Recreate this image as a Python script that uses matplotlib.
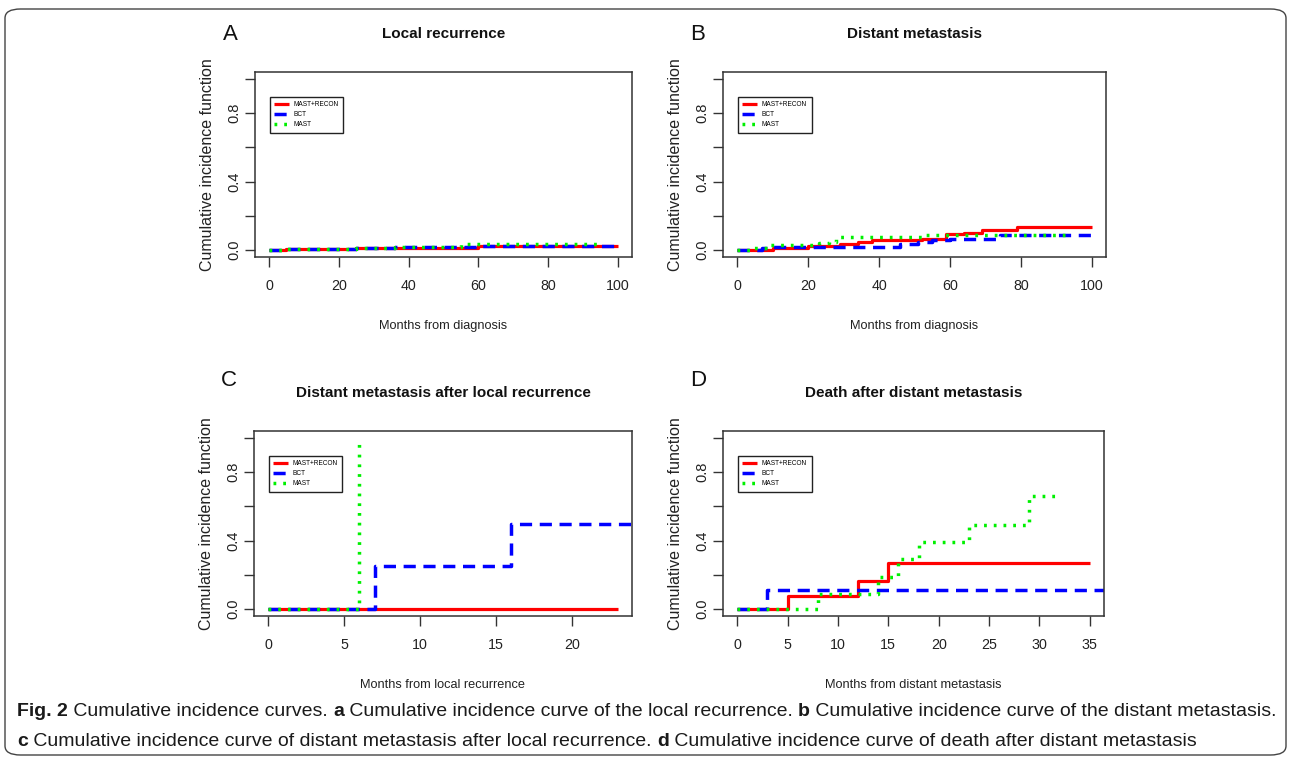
import matplotlib
matplotlib.use('Agg')
import matplotlib.pyplot as plt
from matplotlib.patches import FancyBboxPatch

NARROW = ['Liberation Sans Narrow', 'Liberation Sans', 'DejaVu Sans']
REGULAR = ['Liberation Sans', 'DejaVu Sans']

GROUPS = ['MAST+RECON', 'BCT', 'MAST']

# Panel A - local recurrence (months from diagnosis)
a_red_t = [0, 5, 25, 60, 100]
a_red_y = [0, 0.004, 0.01, 0.023, 0.023]
a_blue_t = [0, 5, 25, 36, 60, 100]
a_blue_y = [0, 0.006, 0.012, 0.021, 0.025, 0.025]
a_green_t = [0, 5, 25, 36, 55, 94]
a_green_y = [0, 0.006, 0.012, 0.018, 0.033, 0.033]

# Panel B - distant metastasis
b_red_t = [0, 10, 20, 29, 34, 38, 52, 59, 64, 69, 79, 100]
b_red_y = [0, 0.014, 0.025, 0.037, 0.049, 0.057, 0.068, 0.092, 0.103, 0.115, 0.138, 0.138]
b_blue_t = [0, 7, 10, 20, 46, 51, 55, 60, 74, 100]
b_blue_y = [0, 0.01, 0.016, 0.02, 0.035, 0.049, 0.058, 0.066, 0.086, 0.086]
b_green_t = [0, 4, 9, 23, 26, 28, 53, 94]
b_green_y = [0, 0.014, 0.03, 0.04, 0.05, 0.078, 0.09, 0.09]

# Panel C - distant metastasis after local recurrence
c_red_t = [0, 23]
c_red_y = [0, 0]
c_blue_t = [0, 7, 16, 24.5]
c_blue_y = [0, 0.25, 0.5, 0.5]
c_green_t = [0, 6, 6]
c_green_y = [0, 1.0, 1.0]

# Panel D - death after distant metastasis
d_red_t = [0, 5, 12, 15, 35]
d_red_y = [0, 0.074, 0.166, 0.27, 0.27]
d_blue_t = [0, 3, 37]
d_blue_y = [0, 0.11, 0.11]
d_green_t = [0, 8, 14, 16, 18, 23, 29, 32]
d_green_y = [0, 0.09, 0.19, 0.29, 0.39, 0.49, 0.66, 0.66]

W, H = 1292, 759


def px_rect(left, top, right, bottom):
    return [left / W, 1 - bottom / H, (right - left) / W, (bottom - top) / H]


def draw_panel(fig, rect, curves, xmax, xticks, title, letter, xlabel, title_y, letter_y):
    ax = fig.add_axes(px_rect(*rect))
    red, blue, green = curves
    ax.step(red[0], red[1], where='post', color='#ff0000', lw=2.3, solid_capstyle='butt', label=GROUPS[0])
    ax.step(blue[0], blue[1], where='post', color='#0000ff', lw=2.5, dashes=(3.5, 2.2),
            dash_capstyle='butt', label=GROUPS[1])
    ax.step(green[0], green[1], where='post', color='#00f000', lw=2.5, dashes=(0.8, 2.0),
            dash_capstyle='butt', label=GROUPS[2])

    pad = 0.04 * xmax
    ax.set_xlim(-pad, xmax + pad)
    ax.set_ylim(-0.04, 1.04)
    ax.set_xticks(xticks)
    ax.set_xticklabels([str(t) for t in xticks], fontfamily=NARROW, fontsize=10.3)
    yt = [0, 0.2, 0.4, 0.6, 0.8, 1.0]
    ax.set_yticks(yt)
    ax.set_yticklabels(['0.0', '', '0.4', '', '0.8', ''], fontfamily=REGULAR, fontsize=10.5,
                       rotation=90, va='center')
    ax.tick_params(direction='out', length=7, width=1, color='#333333', labelcolor='#222222')
    ax.tick_params(axis='x', pad=9)
    ax.tick_params(axis='y', pad=3)
    for s in ax.spines.values():
        s.set_color('#333333')
        s.set_linewidth(1.1)

    ax.set_xlabel(xlabel, fontfamily=NARROW, fontsize=9.2, labelpad=19, color='#222222')
    ax.set_ylabel('Cumulative incidence function', fontfamily=REGULAR, fontsize=11.5,
                  labelpad=9, color='#222222')

    cx = (rect[0] + rect[2]) / 2
    fig.text(cx / W, 1 - title_y / H, title, ha='center', va='center',
             fontfamily=NARROW, fontsize=11, fontweight='bold', color='#111111')
    fig.text((rect[0] - 25) / W, 1 - letter_y / H, letter, ha='center', va='center',
             fontfamily=REGULAR, fontsize=16, color='#111111')

    leg = ax.legend(loc='upper left', bbox_to_anchor=(0.03, 0.885), prop={'family': NARROW, 'size': 4.7},
                    frameon=True, fancybox=False, edgecolor='#222222', framealpha=1,
                    handlelength=2.3, handletextpad=0.7, borderpad=0.7, labelspacing=0.45)
    leg.get_frame().set_linewidth(1.0)
    return ax


fig = plt.figure(figsize=(W / 100, H / 100), dpi=100)

draw_panel(fig, (255, 72, 632, 257),
           [(a_red_t, a_red_y), (a_blue_t, a_blue_y), (a_green_t, a_green_y)],
           100, [0, 20, 40, 60, 80, 100], 'Local recurrence', 'A', 'Months from diagnosis', 34, 34)
draw_panel(fig, (723, 72, 1106, 257),
           [(b_red_t, b_red_y), (b_blue_t, b_blue_y), (b_green_t, b_green_y)],
           100, [0, 20, 40, 60, 80, 100], 'Distant metastasis', 'B', 'Months from diagnosis', 34, 34)
draw_panel(fig, (254, 431, 632, 616),
           [(c_red_t, c_red_y), (c_blue_t, c_blue_y), (c_green_t, c_green_y)],
           23, [0, 5, 10, 15, 20], 'Distant metastasis after local recurrence', 'C',
           'Months from local recurrence', 393, 380)
draw_panel(fig, (723, 431, 1104, 616),
           [(d_red_t, d_red_y), (d_blue_t, d_blue_y), (d_green_t, d_green_y)],
           35, [0, 5, 10, 15, 20, 25, 30, 35], 'Death after distant metastasis', 'D',
           'Months from distant metastasis', 393, 380)

# rounded frame around figure + caption
frame = FancyBboxPatch((5 / W, 4 / H), (W - 11) / W, (H - 13) / H,
                       boxstyle='round,pad=0,rounding_size=0.012', transform=fig.transFigure,
                       fill=False, edgecolor='#444444', lw=1.0)
fig.patches.append(frame)

caption = [
    [('Fig. 2', True), (' Cumulative incidence curves. ', False), ('a', True),
     (' Cumulative incidence curve of the local recurrence. ', False), ('b', True),
     (' Cumulative incidence curve of the distant metastasis.', False)],
    [('c', True), (' Cumulative incidence curve of distant metastasis after local recurrence. ', False),
     ('d', True), (' Cumulative incidence curve of death after distant metastasis', False)],
]
renderer = fig.canvas.get_renderer()
for line, ypix in zip(caption, [712, 741]):
    x = 17
    for txt, bold in line:
        t = fig.text(x / W, 1 - ypix / H, txt, ha='left', va='center', fontfamily=NARROW,
                     fontsize=14, fontweight='bold' if bold else 'normal', color='#1a1a1a')
        x += t.get_window_extent(renderer).width

fig.savefig('out.png', dpi=100)
